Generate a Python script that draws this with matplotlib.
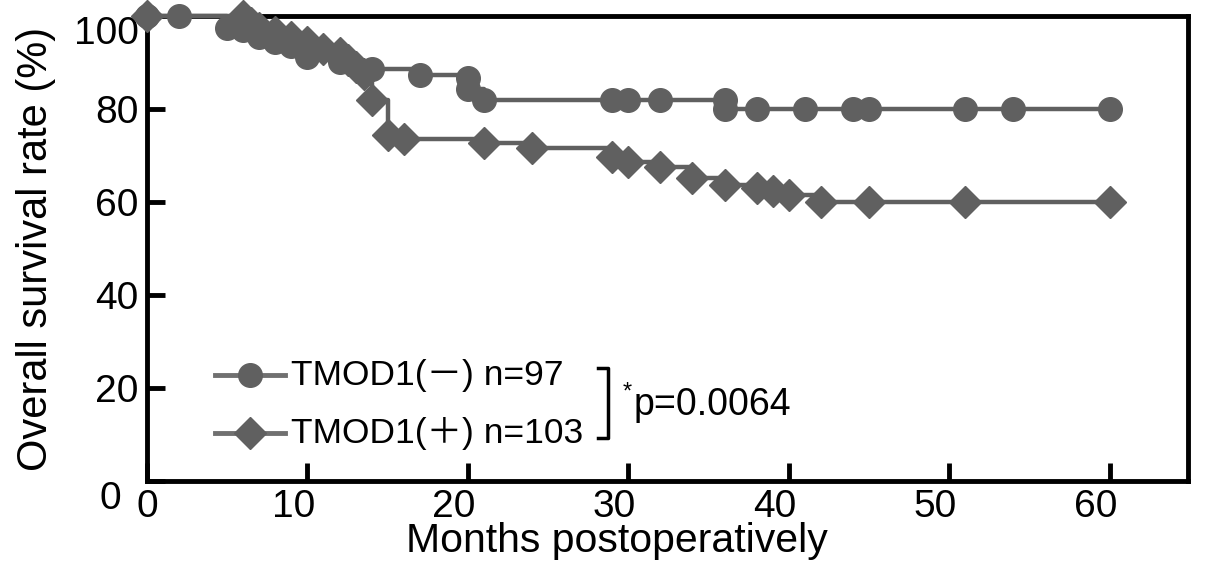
import matplotlib
matplotlib.use("Agg")
import matplotlib.pyplot as plt
from matplotlib.transforms import ScaledTranslation

plt.rcParams['font.family'] = ['Liberation Sans', 'Noto Sans CJK JP', 'DejaVu Sans']

# TMOD1(-) group, months and survival (%) at each marked point
neg_months = [0, 2, 5, 6, 7, 8, 9, 10, 12, 14, 17, 20, 20, 21, 29, 30, 32, 36, 36, 38, 41, 44, 45, 51, 54, 60]
neg_surv = [100, 100, 97.5, 97, 95.5, 94.5, 93.5, 91.2, 90, 88.5, 87.3, 86.7, 84.3, 82, 82, 82, 82, 82, 80, 80, 80, 80, 80, 80, 80, 80]

# TMOD1(+) group
pos_months = [0, 6, 6.5, 7, 8, 9, 10, 11, 12, 12.5, 13, 13.5, 14, 15, 16, 21, 24, 29, 30, 32, 34, 36, 38, 39, 40, 42, 45, 51, 60]
pos_surv = [100, 100, 98.5, 97.5, 96.5, 95.5, 94.5, 93, 92, 90.5, 89, 87.5, 82, 74.5, 73.5, 72.7, 71.6, 69.7, 68.6, 67.5, 65.2, 63.6, 63, 62.3, 61.5, 60, 60, 60, 60]

x_ticks = [0, 10, 20, 30, 40, 50, 60]
y_ticks = [0, 20, 40, 60, 80, 100]

grey = '#606060'

fig = plt.figure(figsize=(12.05, 5.7), dpi=100)
ax = fig.add_axes([0.122, 0.156, 0.864, 0.816])

ax.plot(neg_months, neg_surv, drawstyle='steps-post', color=grey, lw=3.2,
        marker='o', ms=17, mec=grey, mfc=grey, clip_on=False, zorder=3)
ax.plot(pos_months, pos_surv, drawstyle='steps-post', color=grey, lw=3.2,
        marker='D', ms=16, mec=grey, mfc=grey, clip_on=False, zorder=3)

ax.set_xlim(0, 64.9)
ax.set_ylim(0, 100)
ax.set_xticks(x_ticks)
ax.set_yticks(y_ticks)
ax.tick_params(direction='in', length=13, width=3.5, labelsize=28, pad=6)
for s in ax.spines.values():
    s.set_linewidth(3.5)

# label offsets as in the original figure
def shift(lab, dx, dy):
    lab.set_transform(lab.get_transform() + ScaledTranslation(dx / 100, dy / 100, fig.dpi_scale_trans))

for lab in ax.get_yticklabels():
    if lab.get_text() == '100':
        shift(lab, 0, -14)
    elif lab.get_text() == '0':
        shift(lab, -18, -14)
for lab in ax.get_xticklabels():
    if lab.get_text() != '0':
        shift(lab, -14, 0)

ax.set_xlabel('Months postoperatively', fontsize=29.5)
ax.xaxis.set_label_coords(0.451, -0.088)
ax.set_ylabel('Overall survival rate (%)', fontsize=30)
ax.yaxis.set_label_coords(-0.087, 0.5)

# hand-made legend
leg_grey = '#707070'
for yy, mk, ms, txt in [(0.228, 'o', 17, 'TMOD1(－) n=97'), (0.103, 'D', 16, 'TMOD1(＋) n=103')]:
    ax.plot([0.065, 0.133], [yy, yy], transform=ax.transAxes, color=leg_grey, lw=3.5)
    ax.plot([0.099], [yy], transform=ax.transAxes, marker=mk, ms=ms, color=grey, lw=0)
    ax.text(0.138, yy, txt, transform=ax.transAxes, fontsize=25.5, va='center', ha='left')

ax.plot([0.433, 0.443, 0.443, 0.433], [0.243, 0.243, 0.092, 0.092],
        transform=ax.transAxes, color='black', lw=2.5)
ax.text(0.457, 0.19, '*', transform=ax.transAxes, fontsize=17, va='center', ha='left')
ax.text(0.467, 0.163, 'p=0.0064', transform=ax.transAxes, fontsize=27, va='center', ha='left')

fig.savefig('out.png', dpi=100)
